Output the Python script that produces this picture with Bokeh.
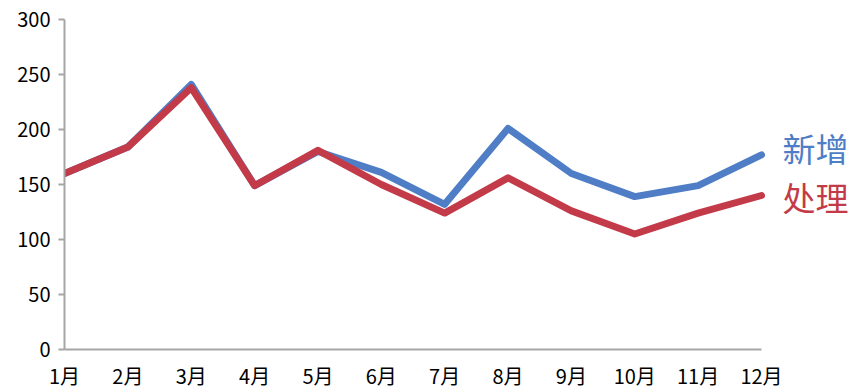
from bokeh.plotting import figure
from bokeh.models import Label, Range1d, FixedTicker
from bokeh.embed import file_html
from bokeh.resources import INLINE

months = ["1月", "2月", "3月", "4月", "5月", "6月", "7月", "8月", "9月", "10月", "11月", "12月"]
new_vals = [160, 184, 241, 149, 180, 161, 132, 201, 160, 139, 149, 177]
done_vals = [160, 184, 238, 149, 181, 150, 124, 156, 126, 105, 124, 140]
y_ticks = [0, 50, 100, 150, 200, 250, 300]
series_names = ["新增", "处理"]

BLUE = "#4f7dc6"
RED = "#c33a48"
FONT = "Noto Sans CJK SC"

xs = list(range(len(months)))

p = figure(width=854, height=392, output_backend="svg", toolbar_location=None,
           x_range=Range1d(0, 12.405), y_range=Range1d(0, 300),
           min_border_left=64, min_border_right=4, min_border_top=19, min_border_bottom=33)
p.outline_line_color = None
p.xgrid.visible = False
p.ygrid.visible = False

p.line(xs, new_vals, line_color=BLUE, line_width=7, line_join="round", line_cap="round")
p.line(xs, done_vals, line_color=RED, line_width=7, line_join="round", line_cap="round")

p.xaxis.bounds = (0, len(months) - 1)
p.xaxis.ticker = FixedTicker(ticks=xs)
p.xaxis.major_label_overrides = {i: m for i, m in enumerate(months)}
p.xaxis.major_tick_line_color = None
p.xaxis.minor_tick_line_color = None
p.xaxis.axis_line_color = "#a6a6a6"
p.xaxis.axis_line_width = 2
p.xaxis.major_label_text_font = FONT
p.xaxis.major_label_text_font_size = "20px"
p.xaxis.major_label_text_color = "#000000"
p.xaxis.major_label_standoff = 5

p.yaxis.ticker = FixedTicker(ticks=y_ticks)
p.yaxis.minor_tick_line_color = None
p.yaxis.major_tick_in = 0
p.yaxis.major_tick_out = 6
p.yaxis.major_tick_line_color = "#a6a6a6"
p.yaxis.major_tick_line_width = 2
p.yaxis.axis_line_color = "#a6a6a6"
p.yaxis.axis_line_width = 2
p.yaxis.major_label_text_font = FONT
p.yaxis.major_label_text_font_size = "20px"
p.yaxis.major_label_text_color = "#000000"
p.yaxis.major_label_standoff = 8

p.add_layout(Label(x=11.33, y=183, text=series_names[0], text_color=BLUE,
                   text_font=FONT, text_font_size="33px", text_baseline="middle"))
p.add_layout(Label(x=11.33, y=139, text=series_names[1], text_color=RED,
                   text_font=FONT, text_font_size="33px", text_baseline="middle"))

open("out.html", "w").write(file_html(p, INLINE))
